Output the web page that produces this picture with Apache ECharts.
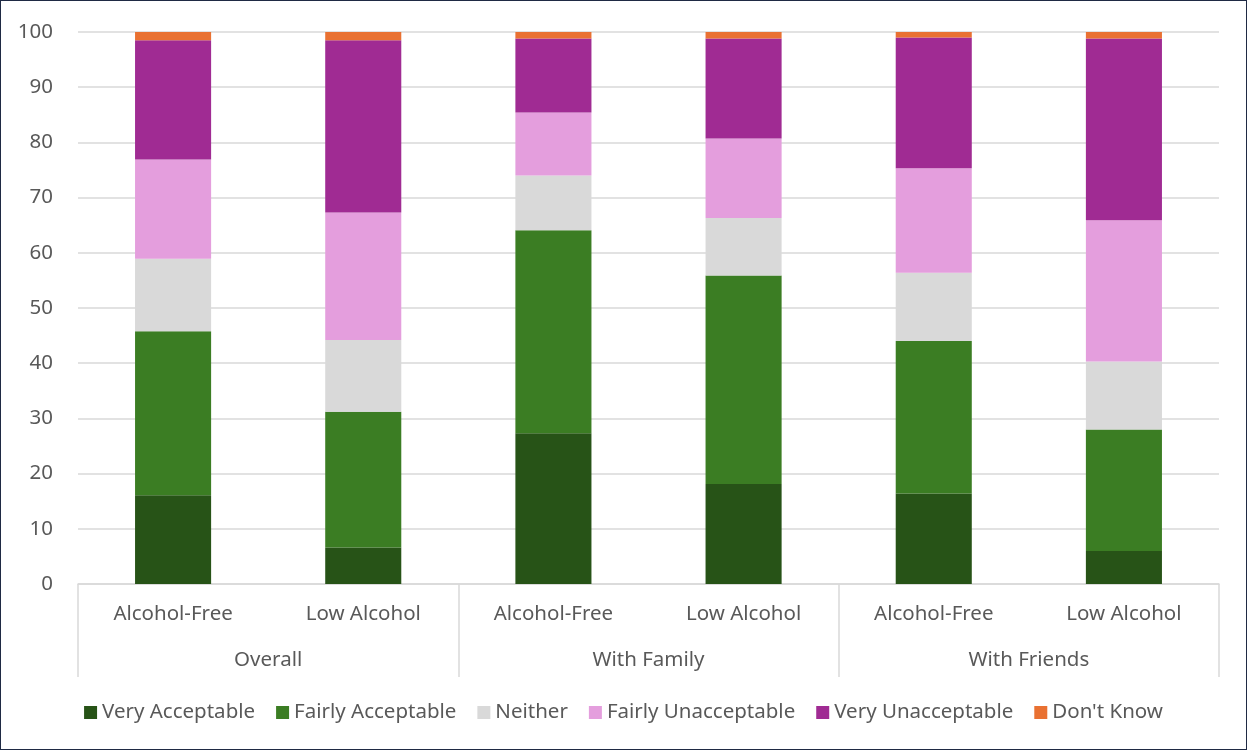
<!DOCTYPE html>
<html>
<head>
<meta charset="utf-8">
<script src="https://cdn.jsdelivr.net/npm/echarts@6/dist/echarts.min.js"></script>
<style>
  html, body { margin: 0; padding: 0; background: #fff; }
  #chart { width: 1245px; height: 748px; border: 1px solid #1f2a44; }
</style>
</head>
<body>
<div id="chart"></div>
<script>
// Drink types within each social setting
const categories = ['Alcohol-Free', 'Low Alcohol', 'Alcohol-Free', 'Low Alcohol', 'Alcohol-Free', 'Low Alcohol'];
const groups = ['Overall', 'With Family', 'With Friends'];

// Percentage of respondents per response
const veryAcceptable      = [16.1,  6.6, 27.3, 18.1, 16.4,  6.0];
const fairlyAcceptable    = [29.7, 24.6, 36.8, 37.8, 27.6, 22.0];
const neither             = [13.1, 13.0,  9.9, 10.4, 12.4, 12.3];
const fairlyUnacceptable  = [18.0, 23.1, 11.4, 14.4, 18.9, 25.6];
const veryUnacceptable    = [21.6, 31.2, 13.4, 18.1, 23.7, 32.9];
const dontKnow            = [ 1.5,  1.5,  1.2,  1.2,  1.0,  1.2];

const yTicks = { min: 0, max: 100, interval: 10 };

const seriesDefs = [
  { name: 'Very Acceptable',     data: veryAcceptable,     color: '#275317' },
  { name: 'Fairly Acceptable',   data: fairlyAcceptable,   color: '#3B7D23' },
  { name: 'Neither',             data: neither,            color: '#D9D9D9' },
  { name: 'Fairly Unacceptable', data: fairlyUnacceptable, color: '#E49EDD' },
  { name: 'Very Unacceptable',   data: veryUnacceptable,   color: '#A02B93' },
  { name: "Don't Know",          data: dontKnow,           color: '#E97132' }
];

const font = 'Noto Sans';
const textColor = '#595959';
const fontSize = 20.5;

const chart = echarts.init(document.getElementById('chart'), null, { renderer: 'canvas' });
chart.setOption({
  animation: false,
  textStyle: { fontFamily: font },
  grid: { left: 77, right: 27, top: 31, bottom: 165, containLabel: false },
  legend: {
    top: 696,
    left: 'center',
    itemWidth: 13,
    itemHeight: 13,
    itemGap: 21,
    icon: 'rect',
    textStyle: { fontFamily: font, fontSize: fontSize, color: textColor },
    data: seriesDefs.map(s => s.name)
  },
  xAxis: [
    {
      type: 'category',
      data: categories,
      position: 'bottom',
      axisLine: { show: true, lineStyle: { color: '#D9D9D9', width: 1.5 } },
      axisTick: { show: false },
      axisLabel: { color: textColor, fontSize: fontSize, margin: 20, interval: 0 }
    },
    {
      type: 'category',
      data: groups,
      position: 'bottom',
      axisLine: { show: false },
      axisTick: { show: true, length: 93, lineStyle: { color: '#D9D9D9', width: 1.5 } },
      axisLabel: { color: textColor, fontSize: fontSize, margin: 66, interval: 0 }
    }
  ],
  yAxis: {
    type: 'value',
    min: yTicks.min,
    max: yTicks.max,
    interval: yTicks.interval,
    axisLine: { show: false },
    axisTick: { show: false },
    axisLabel: { color: textColor, fontSize: fontSize, margin: 25 },
    splitLine: { lineStyle: { color: '#D9D9D9', width: 1.5 } }
  },
  series: seriesDefs.map(s => ({
    name: s.name,
    type: 'bar',
    stack: 'total',
    xAxisIndex: 0,
    barWidth: '40%',
    data: s.data,
    itemStyle: { color: s.color }
  }))
});
</script>
</body>
</html>
